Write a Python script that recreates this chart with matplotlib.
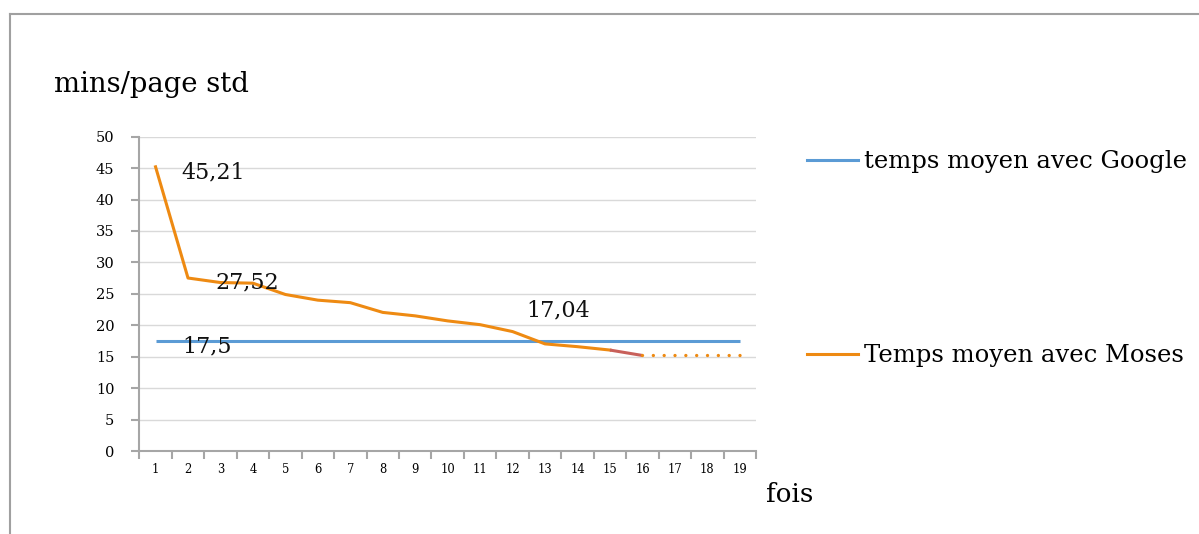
import matplotlib
matplotlib.use("Agg")
import numpy as np
import matplotlib.pyplot as plt
from matplotlib.lines import Line2D

# chart values
fois = np.arange(1, 20)
google = [17.5] * 19
moses = [45.21, 27.52, 26.8, 26.7, 24.9, 24.0, 23.6, 22.05, 21.5, 20.7,
         20.1, 19.0, 17.04, 16.6, 16.06, 15.2]
projection = [15.2, 15.2, 15.2, 15.2]   # dotted tail, runs 16..19
labels = ["45,21", "27,52", "17,5", "17,04"]
yticks = [0, 5, 10, 15, 20, 25, 30, 35, 40, 45, 50]

blue = "#5b9bd5"
orange = "#ee8a12"
red = "#c8605a"
grey = "#a6a6a6"

plt.rcParams['font.family'] = ['DejaVu Serif']

fig = plt.figure(figsize=(11.99, 5.34), dpi=100)
ax = fig.add_axes([0.1162, 0.1554, 0.5143, 0.5886])

# lines
ax.plot(fois, google, color=blue, lw=2.2, solid_capstyle='butt')
ax.plot(fois[:15], moses[:15], color=orange, lw=2.2, solid_joinstyle='round')
ax.plot(fois[14:16], moses[14:16], color=red, lw=2.2, solid_capstyle='butt')
ax.plot(fois[15:], projection, color=orange, lw=2.4, linestyle=(0, (0.01, 3.24)),
        dash_capstyle='round')

# axes look
ax.set_xlim(0.5, 19.5)
ax.set_ylim(0, 50)
ax.set_yticks(yticks)
ax.set_yticklabels([str(v) for v in yticks], fontsize=10.5)
ax.set_xticks(np.arange(0.5, 20.5, 1.0))
ax.set_xticklabels([])
ax.set_xticks(fois, minor=True)
ax.set_xticklabels([str(v) for v in fois], minor=True, fontsize=8.3)
ax.tick_params(axis='x', which='major', length=6, width=1.5, color=grey, direction='out')
ax.tick_params(axis='x', which='minor', length=0, pad=8.4)
ax.tick_params(axis='y', length=6, width=1.5, color=grey, pad=12)
ax.grid(axis='y', color='#d9d9d9', lw=1.0)
ax.set_axisbelow(True)
for s in ['top', 'right']:
    ax.spines[s].set_visible(False)
for s in ['left', 'bottom']:
    ax.spines[s].set_color(grey)
    ax.spines[s].set_linewidth(1.5)

# value labels
lab_pos = [(1.806, 43.4), (2.832, 25.87), (1.837, 15.63), (12.435, 21.35)]
for (x, y), t in zip(lab_pos, labels):
    ax.text(x, y, t, fontsize=16, ha='left', va='baseline', color='#111111')

# titles
fig.text(54 / 1199, 1 - 92 / 534, "mins/page std", fontsize=19.8, va='baseline')
fig.text(766 / 1199, 1 - 502 / 534, "fois", fontsize=18.8, va='baseline')

# legend, two entries far apart
h1 = Line2D([], [], color=blue, lw=2.2)
h2 = Line2D([], [], color=orange, lw=2.2)
leg_kw = dict(loc='center left', frameon=False, bbox_transform=fig.transFigure,
              fontsize=17.5, handlelength=2.1, handletextpad=0.25, borderpad=0, borderaxespad=0)
leg1 = ax.legend([h1], ["temps moyen avec Google"],
                 bbox_to_anchor=(807 / 1199, 1 - 161.7 / 534), **leg_kw)
ax.add_artist(leg1)
ax.legend([h2], ["Temps moyen avec Moses"],
          bbox_to_anchor=(807 / 1199, 1 - 355.7 / 534), **leg_kw)

# outer frame (left and top only visible)
fig.add_artist(Line2D([10 / 1199, 10 / 1199], [0, 1 - 14 / 534], color='#a0a0a0', lw=1.5,
                      transform=fig.transFigure))
fig.add_artist(Line2D([10 / 1199, 1], [1 - 14 / 534, 1 - 14 / 534], color='#a0a0a0', lw=1.5,
                      transform=fig.transFigure))

fig.savefig("out.png", dpi=100)
